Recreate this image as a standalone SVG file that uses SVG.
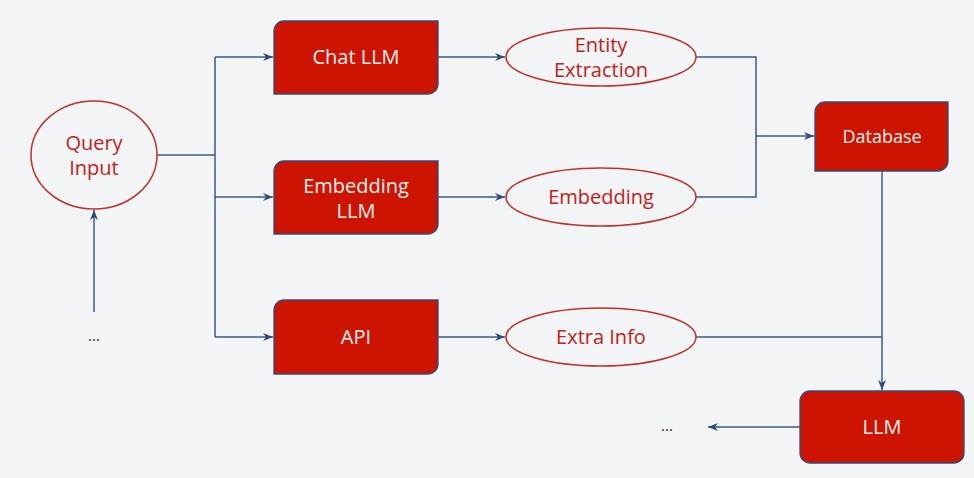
<svg xmlns="http://www.w3.org/2000/svg" width="974" height="478" viewBox="0 0 974 478">
<defs>
<marker id="arr" viewBox="0 0 10 8" refX="10" refY="4" markerWidth="10" markerHeight="8" markerUnits="userSpaceOnUse" orient="auto">
<path d="M0,0 L10,4 L0,8 L3,4 Z" fill="#2f4b7c"/>
</marker>
<style>
.box{fill:#cd1400;stroke:#2f4b7c;stroke-width:1.3}
.ell{fill:none;stroke:#c0302a;stroke-width:1.5}
.bt{font-family:"Open Sans","Liberation Sans",sans-serif;font-size:20px;fill:#f7f2f2;text-anchor:middle}
.et{font-family:"Open Sans","Liberation Sans",sans-serif;font-size:20px;fill:#c0221a;text-anchor:middle}
.dots{font-family:"Open Sans","Liberation Sans",sans-serif;font-size:15px;fill:#222;text-anchor:middle}
.ln{fill:none;stroke:#3b5a8a;stroke-width:1.5}
.ar{marker-end:url(#arr)}
</style>
</defs>
<rect width="974" height="478" fill="#f3f4f6"/>
<g id="connectors">
<path class="ln" d="M157,155 H215"/>
<path class="ln" d="M215,57 V337"/>
<path class="ln ar" d="M215,57 H273"/>
<path class="ln ar" d="M215,197 H273"/>
<path class="ln ar" d="M215,337 H273"/>
<path class="ln ar" d="M94,312 V210"/>
<path class="ln ar" d="M438,57 H505"/>
<path class="ln ar" d="M438,197 H505"/>
<path class="ln ar" d="M438,337 H505"/>
<path class="ln" d="M696,57 H756 V197 H696"/>
<path class="ln ar" d="M756,136 H814"/>
<path class="ln" d="M696,337 H882"/>
<path class="ln ar" d="M882,171 V390"/>
<path class="ln ar" d="M800,427 H708"/>
</g>
<g id="query-input">
<ellipse class="ell" cx="94" cy="155" rx="63" ry="54"/>
<text class="et" x="94" y="150">Query</text>
<text class="et" x="94" y="175">Input</text>
</g>
<g id="dots-left"><text class="dots" x="94" y="341">...</text></g>
<g id="chat-llm">
<path class="box" d="M284,21 H438 V84 A10,10 0 0 1 428,94 H274 V31 A10,10 0 0 1 284,21 Z"/>
<text class="bt" x="356" y="64">Chat LLM</text>
</g>
<g id="embedding-llm">
<path class="box" d="M284,161 H438 V224 A10,10 0 0 1 428,234 H274 V171 A10,10 0 0 1 284,161 Z"/>
<text class="bt" x="356" y="193">Embedding</text>
<text class="bt" x="356" y="218">LLM</text>
</g>
<g id="api">
<path class="box" d="M284,300 H438 V364 A10,10 0 0 1 428,374 H274 V310 A10,10 0 0 1 284,300 Z"/>
<text class="bt" x="356" y="344">API</text>
</g>
<g id="entity-extraction">
<ellipse class="ell" cx="601" cy="57" rx="95" ry="29"/>
<text class="et" x="601" y="52">Entity</text>
<text class="et" x="601" y="77">Extraction</text>
</g>
<g id="embedding">
<ellipse class="ell" cx="601" cy="197" rx="95" ry="29"/>
<text class="et" x="601" y="204">Embedding</text>
</g>
<g id="extra-info">
<ellipse class="ell" cx="601" cy="337" rx="95" ry="29"/>
<text class="et" x="601" y="344">Extra Info</text>
</g>
<g id="database">
<path class="box" d="M825,102 H948 V161 A10,10 0 0 1 938,171 H815 V112 A10,10 0 0 1 825,102 Z"/>
<text class="bt" x="882" y="143" style="font-size:18px">Database</text>
</g>
<g id="llm">
<rect class="box" x="800" y="391" width="164" height="72" rx="10"/>
<text class="bt" x="882" y="434">LLM</text>
</g>
<g id="dots-right"><text class="dots" x="667" y="431">...</text></g>
</svg>
